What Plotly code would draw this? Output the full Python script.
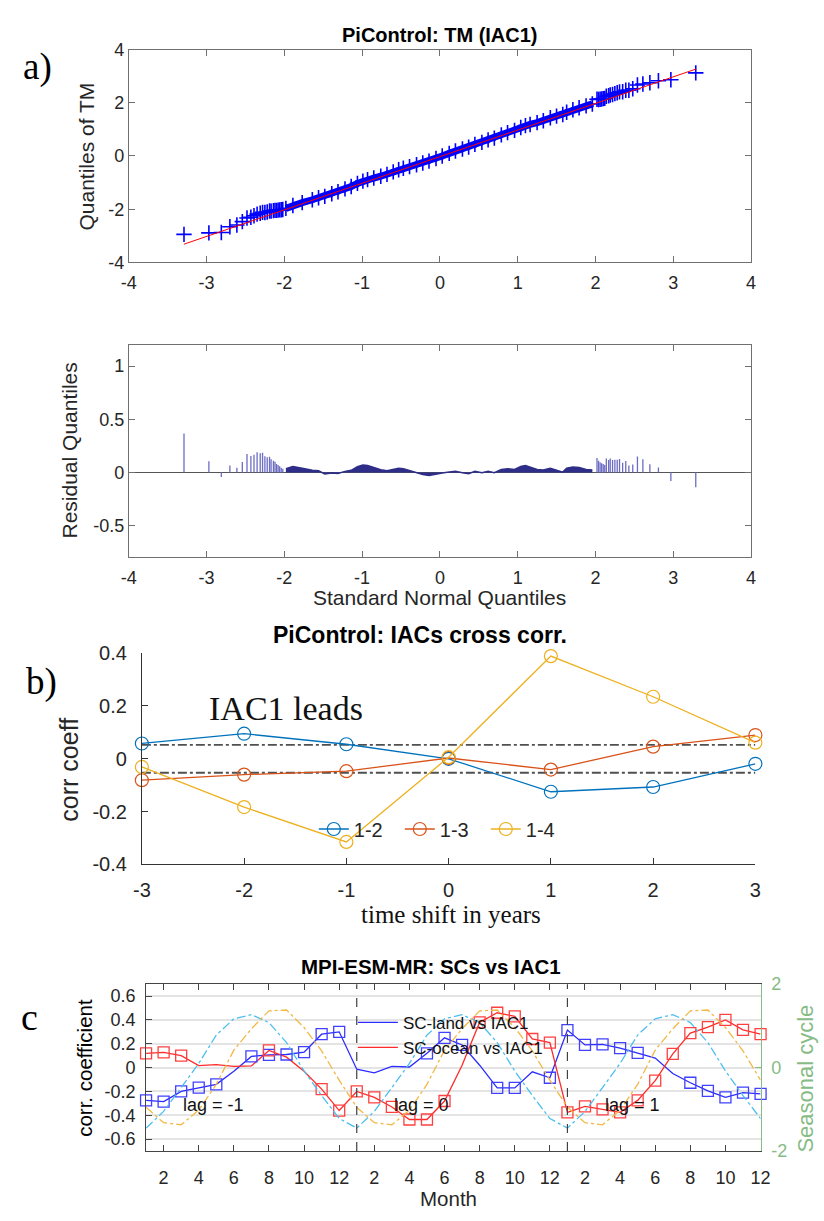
import plotly.graph_objects as go

W, H = 824, 1221

# ---------------- Panel a: QQ plot of TM (IAC1) ----------------
# theoretical quantile positions and residuals (data - fitted line)
tail_left_x = [-3.29, -2.97, -2.81, -2.70, -2.61, -2.54, -2.48, -2.43, -2.39, -2.35, -2.31, -2.28,
               -2.25, -2.22, -2.19, -2.17, -2.14, -2.12, -2.10, -2.08, -2.06, -2.04, -2.02]
tail_left_r = [0.367, 0.105, -0.043, 0.065, 0.043, 0.099, 0.173, 0.154, 0.167, 0.189, 0.18, 0.185,
               0.152, 0.142, 0.147, 0.124, 0.11, 0.10, 0.08, 0.07, 0.058, 0.043, 0.035]
mid_x = [-1.98, -1.89, -1.77, -1.64, -1.56, -1.48, -1.39, -1.31, -1.22, -1.14, -1.06, -0.99, -0.93,
         -0.85, -0.76, -0.68, -0.60, -0.53, -0.47, -0.39, -0.30, -0.22, -0.14, -0.05, 0.03, 0.12,
         0.20, 0.29, 0.37, 0.45, 0.54, 0.62, 0.70, 0.79, 0.87, 0.96, 1.04, 1.10, 1.16, 1.25, 1.33,
         1.42, 1.50, 1.58, 1.63, 1.71, 1.79, 1.88, 1.96]
mid_r = [0.034, 0.055, 0.04, 0.02, 0.015, -0.015, -0.006, -0.01, 0.01, 0.02, 0.055, 0.07, 0.065,
         0.046, 0.025, 0.015, 0.028, 0.04, 0.034, 0.015, -0.003, -0.02, -0.028, -0.02, -0.006, 0.003,
         0.01, -0.003, -0.012, 0.01, -0.003, 0.01, -0.003, 0.028, 0.034, 0.028, 0.055, 0.065, 0.05,
         0.028, 0.022, 0.04, 0.022, 0.003, 0.04, 0.052, 0.046, 0.028, 0.022]
tail_right_x = [2.02, 2.04, 2.06, 2.08, 2.10, 2.12, 2.14, 2.17, 2.19, 2.22, 2.25, 2.28, 2.31, 2.35,
                2.39, 2.43, 2.48, 2.54, 2.61, 2.70, 2.81, 2.97, 3.29]
tail_right_r = [0.136, 0.11, 0.096, 0.087, 0.08, 0.071, 0.13, 0.117, 0.13, 0.117, 0.12, 0.12, 0.126,
                0.09, 0.108, 0.065, 0.074, 0.151, 0.123, 0.077, 0.046, -0.08, -0.14]
fit_slope = 1.0
fit_intercept = -0.025
fit_x_ends = [-3.29, 3.29]
qq_ticks = [-4, -3, -2, -1, 0, 1, 2, 3, 4]
qq_yticks = [-4, -2, 0, 2, 4]
resid_ticks = [-0.5, 0, 0.5, 1]

# ---------------- Panel b: IACs cross correlation ----------------
shift_years = [-3, -2, -1, 0, 1, 2, 3]
cc_12 = [0.058, 0.095, 0.055, 0.0, -0.125, -0.107, -0.019]
cc_13 = [-0.081, -0.06, -0.047, 0.003, -0.041, 0.046, 0.09]
cc_14 = [-0.031, -0.183, -0.315, 0.006, 0.389, 0.235, 0.061]
sig_level = 0.053
cc_ticks = [-0.4, -0.2, 0, 0.2, 0.4]

# ---------------- Panel c: SCs vs IAC1 ----------------
month_pos = list(range(1, 37))
month_tick_pos = list(range(2, 37, 2))
month_tick_text = ["2", "4", "6", "8", "10", "12"] * 3
land_corr = [-0.275, -0.285, -0.20, -0.168, -0.14, -0.03, 0.094, 0.107, 0.11, 0.13, 0.28, 0.30,
             -0.013, -0.044, 0.01, 0.005, 0.12, 0.25, 0.19, 0.02, -0.17, -0.17, -0.035, -0.085,
             0.315, 0.19, 0.195, 0.163, 0.124, 0.08, -0.05, -0.127, -0.195, -0.25, -0.21, -0.22]
ocean_corr = [0.12, 0.127, 0.10, 0.017, 0.025, 0.01, 0.014, 0.144, 0.088, -0.03, -0.18, -0.36,
              -0.20, -0.25, -0.33, -0.435, -0.435, -0.28, 0.02, 0.38, 0.46, 0.43, 0.24, 0.21,
              -0.375, -0.325, -0.35, -0.375, -0.275, -0.11, 0.116, 0.29, 0.34, 0.40, 0.317, 0.28]
land_sig = [1, 1, 1, 1, 1, 0, 1, 1, 1, 1, 1, 1,
            0, 0, 0, 0, 1, 1, 1, 0, 1, 1, 0, 1,
            1, 1, 1, 1, 1, 0, 0, 1, 1, 1, 1, 1]
ocean_sig = [1, 1, 1, 0, 0, 0, 0, 1, 0, 0, 1, 1,
             1, 1, 1, 1, 1, 1, 0, 1, 1, 1, 1, 1,
             1, 1, 1, 1, 1, 1, 1, 1, 1, 1, 1, 1]
sc_land = [-1.45, -1.05, -0.48, 0.10, 0.78, 1.17, 1.27, 1.08, 0.60, -0.08, -0.67, -1.22]
sc_ocean = [-0.95, -1.32, -1.37, -1.02, -0.40, 0.42, 0.93, 1.36, 1.38, 0.96, 0.40, -0.30]
corr_ticks = [-0.6, -0.4, -0.2, 0, 0.2, 0.4, 0.6]
sc_ticks = [-2, 0, 2]
lag_names = ["lag = -1", "lag = 0", "lag = 1"]
lag_label_month = 3
segment_len = 12


def fx(px):
    return px / W


def fy(py):
    return 1 - py / H


def lab(v):
    return "%g" % v  # ASCII hyphen-minus, like the original


SANS = "Liberation Sans, Arial, sans-serif"
SERIF = "Liberation Serif, Times New Roman, serif"
AXC = "#707070"
TXT = "#262626"
GREEN = "#86bb86"

fig = go.Figure()

# ---- panel a top ----
all_x = tail_left_x + mid_x + tail_right_x
all_r = tail_left_r + mid_r + tail_right_r
all_y = [fit_intercept + fit_slope * x + r for x, r in zip(all_x, all_r)]
mid_y = [fit_intercept + fit_slope * x + r for x, r in zip(mid_x, mid_r)]

fig.add_trace(go.Scatter(x=mid_x, y=mid_y, mode="lines", line=dict(color="#0000ff", width=7),
                         xaxis="x", yaxis="y", showlegend=False, hoverinfo="skip"))
fig.add_trace(go.Scatter(x=all_x, y=all_y, mode="markers",
                         marker=dict(symbol="cross-thin", size=11, line=dict(width=1.6, color="#0000ff")),
                         xaxis="x", yaxis="y", showlegend=False, cliponaxis=False))
fig.add_trace(go.Scatter(x=fit_x_ends, y=[fit_intercept + fit_slope * x for x in fit_x_ends],
                         mode="lines", line=dict(color="#ff0000", width=1),
                         xaxis="x", yaxis="y", showlegend=False))

# ---- panel a residuals ----
stem_x, stem_y = [], []
for x, r in zip(tail_left_x + tail_right_x, tail_left_r + tail_right_r):
    stem_x += [x, x, None]
    stem_y += [0, r, None]
fig.add_trace(go.Scatter(x=mid_x, y=mid_r, mode="lines", fill="tozeroy",
                         fillcolor="#2e2e88", line=dict(color="#2e2e88", width=1.5),
                         xaxis="x2", yaxis="y2", showlegend=False))
fig.add_trace(go.Scatter(x=stem_x, y=stem_y, mode="lines", line=dict(color="#6c6cc4", width=1.3),
                         xaxis="x2", yaxis="y2", showlegend=False))

# ---- panel b ----
for yv in (sig_level, -sig_level):
    fig.add_trace(go.Scatter(x=[shift_years[0], shift_years[-1]], y=[yv, yv], mode="lines",
                             line=dict(color="#505050", width=1.8, dash="dashdot"),
                             xaxis="x3", yaxis="y3", showlegend=False))
for name, vals, col in (("1-2", cc_12, "#0072BD"), ("1-3", cc_13, "#D95319"), ("1-4", cc_14, "#EDB120")):
    fig.add_trace(go.Scatter(x=shift_years, y=vals, mode="lines+markers", name=name,
                             line=dict(color=col, width=1.3),
                             marker=dict(symbol="circle-open", size=13, color=col, line=dict(width=1.2)),
                             xaxis="x3", yaxis="y3", cliponaxis=False, legend="legend"))

# ---- panel c ----
sc_land_full = sc_land * 3
sc_ocean_full = sc_ocean * 3
fig.add_trace(go.Scatter(x=month_pos, y=sc_land_full, mode="lines",
                         line=dict(color="#4DBEEE", width=1.3, dash="dashdot"),
                         xaxis="x4", yaxis="y5", showlegend=False))
fig.add_trace(go.Scatter(x=month_pos, y=sc_ocean_full, mode="lines",
                         line=dict(color="#F2B845", width=1.3, dash="dashdot"),
                         xaxis="x4", yaxis="y5", showlegend=False))

fig.add_trace(go.Scatter(x=month_pos, y=land_corr, mode="lines", name="SC-land vs IAC1",
                         line=dict(color="#2b2bff", width=1.3), xaxis="x4", yaxis="y4",
                         legend="legend2"))
fig.add_trace(go.Scatter(x=month_pos, y=ocean_corr, mode="lines", name="SC-ocean vs IAC1",
                         line=dict(color="#ff2b2b", width=1.3), xaxis="x4", yaxis="y4",
                         legend="legend2"))
fig.add_trace(go.Scatter(x=[m for m, s in zip(month_pos, land_sig) if s],
                         y=[v for v, s in zip(land_corr, land_sig) if s], mode="markers",
                         marker=dict(symbol="square-open", size=11, color="#4040ff", line=dict(width=1.3)),
                         xaxis="x4", yaxis="y4", showlegend=False, cliponaxis=False))
fig.add_trace(go.Scatter(x=[m for m, s in zip(month_pos, ocean_sig) if s],
                         y=[v for v, s in zip(ocean_corr, ocean_sig) if s], mode="markers",
                         marker=dict(symbol="square-open", size=11, color="#ff4040", line=dict(width=1.3)),
                         xaxis="x4", yaxis="y4", showlegend=False, cliponaxis=False))

shapes = []
for k in range(1, 3):
    xb = month_pos[0] + k * segment_len
    shapes.append(dict(type="line", xref="x4", yref="y4 domain", x0=xb, x1=xb, y0=0, y1=1,
                       line=dict(color="#404040", width=1.2, dash="dash")))

annotations = []
for k, nm in enumerate(lag_names):
    annotations.append(dict(text=nm, x=month_pos[0] + k * segment_len + lag_label_month - 1, y=-0.31,
                            xref="x4", yref="y4", xanchor="left", yanchor="middle", showarrow=False,
                            font=dict(family=SANS, size=18, color="#111")))


def txt(text, px, py, size, family=SANS, bold=False, angle=0, xanchor="center", color=TXT):
    t = "<b>%s</b>" % text if bold else text
    annotations.append(dict(text=t, x=fx(px), y=fy(py), xref="paper", yref="paper",
                            xanchor=xanchor, yanchor="middle", showarrow=False, textangle=angle,
                            font=dict(family=family, size=size, color=color)))


txt("PiControl: TM (IAC1)", 441, 24, 20, bold=True, color="#000")
txt("a)", 12, 57, 37, family=SERIF, xanchor="left", color="#000")
txt("Quantiles of TM", 79, 148, 21, angle=-90)
txt("Residual Quantiles", 62, 448, 21, angle=-90)
txt("Standard Normal Quantiles", 441, 597, 21)
txt("PiControl: IACs cross corr.", 421, 635, 23, bold=True, color="#000")
txt("b)", 15, 683, 37, family=SERIF, xanchor="left", color="#000")
txt("corr coeff", 61, 773, 25, angle=-90)
txt("IAC1 leads", 203, 710, 34, family=SERIF, xanchor="left", color="#111")
txt("time shift in years", 452, 920, 25, family=SERIF, color="#111")
txt("MPI-ESM-MR: SCs vs IAC1", 432, 973, 20.5, bold=True, color="#000")
txt("c", 10, 1024, 38, family=SERIF, xanchor="left", color="#000")
txt("corr. coefficient", 77, 1076, 20.5, angle=-90, color="#000")
txt("Seasonal cycle", 815, 1087, 22, angle=-90, color=GREEN)
txt("Month", 450, 1209, 20.5)

tickfont = dict(family=SANS, size=18, color=TXT)
base_ax = dict(showgrid=False, zeroline=False, showline=True, linecolor=AXC, linewidth=1,
               ticks="inside", ticklen=6, tickcolor=AXC, tickfont=tickfont)

xa_dom = [fx(122.6), fx(759.5)]
fig.update_layout(
    width=W, height=H, margin=dict(l=0, r=0, t=0, b=0), autosize=False,
    paper_bgcolor="white", plot_bgcolor="white",
    xaxis=dict(base_ax, domain=xa_dom, anchor="y", range=[-4, 4], mirror="ticks",
               tickvals=qq_ticks, ticktext=[lab(v) for v in qq_ticks], ticklabelstandoff=4),
    yaxis=dict(base_ax, domain=[fy(256), fy(39.3)], anchor="x", range=[-4, 4], mirror="ticks",
               tickvals=qq_yticks, ticktext=[lab(v) for v in qq_yticks]),
    xaxis2=dict(base_ax, domain=xa_dom, anchor="y2", range=[-4, 4], mirror="ticks",
                tickvals=qq_ticks, ticktext=[lab(v) for v in qq_ticks], ticklabelstandoff=4),
    yaxis2=dict(base_ax, domain=[fy(556.5), fy(340)], anchor="x2", range=[-0.8, 1.2],
                tickvals=resid_ticks, ticktext=[lab(v) for v in resid_ticks], mirror="ticks",
                zeroline=True, zerolinecolor="#555", zerolinewidth=1),
    xaxis3=dict(base_ax, domain=[fx(136), fx(764)], anchor="y3", range=[-3, 3],
                tickvals=shift_years, ticktext=[lab(v) for v in shift_years],
                tickfont=dict(family=SANS, size=20, color=TXT), ticklabelstandoff=8,
                linecolor="#333", tickcolor="#333"),
    yaxis3=dict(base_ax, domain=[fy(869), fy(654)], anchor="x3", range=[-0.4, 0.4],
                tickvals=cc_ticks, ticktext=[lab(v) for v in cc_ticks],
                tickfont=dict(family=SANS, size=20, color=TXT), ticklabelstandoff=10,
                linecolor="#333", tickcolor="#333"),
    xaxis4=dict(base_ax, domain=[fx(140.3), fx(769.3)], anchor="y4", range=[1, 36],
                tickvals=month_tick_pos, ticktext=month_tick_text, mirror="ticks",
                ticklabelstandoff=10, linecolor="#444", tickcolor="#444"),
    yaxis4=dict(base_ax, domain=[fy(1161), fy(991)], anchor="x4", range=[-0.7, 0.7],
                tickvals=corr_ticks, ticktext=[lab(v) for v in corr_ticks],
                showgrid=True, gridcolor="#e4e4e4", gridwidth=2, ticklabelstandoff=6,
                linecolor="#444", tickcolor="#444"),
    yaxis5=dict(base_ax, overlaying="y4", anchor="x4", side="right", range=[-2, 2],
                tickvals=sc_ticks, ticktext=[lab(v) for v in sc_ticks], linecolor=GREEN, tickcolor=GREEN,
                tickfont=dict(family=SANS, size=18, color=GREEN), ticklabelstandoff=6),
    legend=dict(orientation="h", x=fx(312), y=fy(833), xanchor="left", yanchor="middle",
                bgcolor="rgba(0,0,0,0)", font=dict(family=SANS, size=20, color=TXT),
                itemwidth=30, entrywidth=41, entrywidthmode="pixels", tracegroupgap=0),
    legend2=dict(x=fx(352), y=fy(1012), xanchor="left", yanchor="top", bgcolor="rgba(0,0,0,0)",
                 font=dict(family=SANS, size=17, color="#111"), itemwidth=40, tracegroupgap=0),
    shapes=shapes,
    annotations=annotations,
)

fig.write_html("out.html", config={"displayModeBar": False},
               post_script="document.body.style.margin='0px';document.body.style.overflow='hidden';")
